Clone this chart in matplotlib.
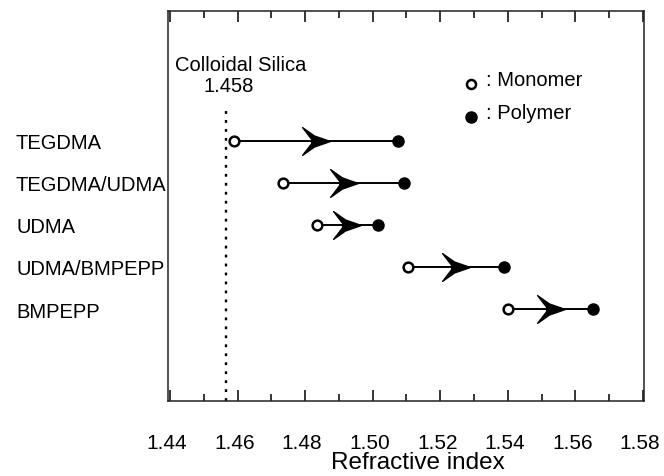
import numpy as np
import matplotlib.pyplot as plt
from matplotlib.ticker import MultipleLocator
import matplotlib.transforms as mtransforms

plt.rcParams['font.family'] = ['Liberation Sans', 'DejaVu Sans']

# resins, top to bottom
resins = ['TEGDMA', 'TEGDMA/UDMA', 'UDMA', 'UDMA/BMPEPP', 'BMPEPP']
monomer = [1.459, 1.4735, 1.4834, 1.5105, 1.5401]
polymer = [1.5074, 1.5093, 1.5016, 1.5388, 1.5652]
silica = 1.4565          # where the dotted line sits
silica_label = '1.458'
x_ticks = [1.44, 1.46, 1.48, 1.50, 1.52, 1.54, 1.56, 1.58]

# chevron arrow head, tip pointing right
head = [(1, 0), (-0.15, 0.4), (-1, 1), (-0.35, 0.16), (-0.35, -0.16),
        (-1, -1), (-0.15, -0.4), (1, 0)]

fig = plt.figure(figsize=(6.64, 4.77), dpi=100)
ax = fig.add_axes([168.3 / 664, 1 - 401.7 / 477, (644 - 168.3) / 664, (401.7 - 12.3) / 477])

rows = np.arange(len(resins), 0, -1)
for y, m, p in zip(rows, monomer, polymer):
    ax.plot([m, p], [y, y], color='black', lw=1.4, zorder=2)
    ax.plot((m + p) / 2, y, marker=head, ms=20, color='black', zorder=3)
ax.plot(monomer, rows, 'o', ms=7, mfc='white', mec='black', mew=1.8, ls='none', zorder=4)
ax.plot(polymer, rows, 'o', ms=8, color='black', ls='none', zorder=4)

ax.axvline(silica, ymin=0, ymax=(5.8 + 1.179) / (8.075 + 1.179), color='black',
           lw=1.7, ls=(0, (1.2, 2.6)))
ax.text(silica + 0.0045, 6.8, 'Colloidal Silica', ha='center', va='center', fontsize=14.5)
ax.text(silica + 0.001, 6.3, silica_label, ha='center', va='center', fontsize=14.5)

# legend drawn by hand
ax.plot(1.529, 6.35, 'o', ms=6.5, mfc='white', mec='black', mew=1.8)
ax.text(1.5335, 6.45, ': Monomer', ha='left', va='center', fontsize=14.5)
ax.plot(1.529, 5.56, 'o', ms=8, color='black')
ax.text(1.5335, 5.68, ': Polymer', ha='left', va='center', fontsize=14.5)

ax.set_xlim(1.4395, 1.5803)
ax.set_ylim(-1.179, 8.075)
ax.set_xticks(x_ticks)
ax.set_xticklabels(['%.2f' % t for t in x_ticks])
ax.xaxis.set_minor_locator(MultipleLocator(0.01))
ax.tick_params(axis='x', which='both', direction='in', top=True, bottom=True,
               width=1.1, labelsize=15, pad=23)
ax.tick_params(axis='x', which='major', length=8)
ax.tick_params(axis='x', which='minor', length=5)
shift = mtransforms.ScaledTranslation(-3 / 100, 0, fig.dpi_scale_trans)
for lab in ax.get_xticklabels():
    lab.set_transform(lab.get_transform() + shift)

ax.set_yticks(rows)
ax.set_yticklabels(resins, fontsize=14.5)
ax.tick_params(axis='y', length=0, pad=(168.3 - 16) * 0.72)
for lab in ax.get_yticklabels():
    lab.set_horizontalalignment('left')

ax.set_xlabel('Refractive index', fontsize=17.5)
ax.xaxis.set_label_coords((418 - 168.3) / (644 - 168.3), -(463 - 401.7) / (401.7 - 12.3))
ax.xaxis.label.set_verticalalignment('center')

for s in ax.spines.values():
    s.set_linewidth(1.1)
    s.set_color('#222222')

fig.savefig('out.png', dpi=100)
